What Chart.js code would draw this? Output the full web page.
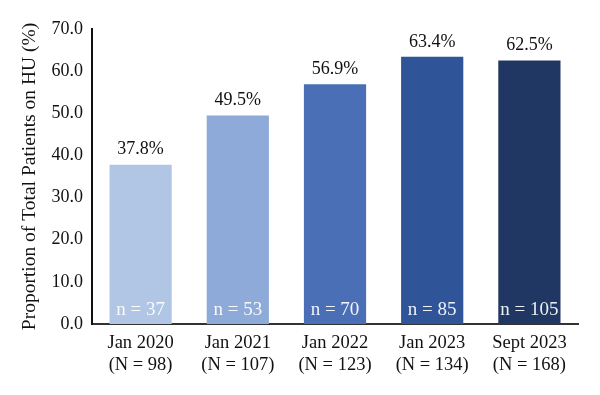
<!DOCTYPE html>
<html>
<head>
<meta charset="utf-8">
<script src="https://cdn.jsdelivr.net/npm/chart.js@4/dist/chart.umd.min.js"></script>
<style>
  html, body { margin: 0; padding: 0; background: #fff; }
  #wrap { width: 600px; height: 395px; }
</style>
</head>
<body>
<div id="wrap"><canvas id="bars"></canvas></div>
<script>
const categories = [
  ["Jan 2020", "(N = 98)"],
  ["Jan 2021", "(N = 107)"],
  ["Jan 2022", "(N = 123)"],
  ["Jan 2023", "(N = 134)"],
  ["Sept 2023", "(N = 168)"]
];
const proportions = [37.8, 49.5, 56.9, 63.4, 62.5];
const patientCounts = [37, 53, 70, 85, 105];
const barColors = ["#b1c5e5", "#8eaad8", "#4a6fb6", "#2f5497", "#1f3762"];

const serif = "'Liberation Serif', 'DejaVu Serif', serif";

// value on top, n = ... inside the bar
const barLabels = {
  id: "barLabels",
  afterDatasetsDraw(chart) {
    const ctx = chart.ctx;
    const meta = chart.getDatasetMeta(0);
    ctx.save();
    ctx.textAlign = "center";
    ctx.font = "18px " + serif;
    meta.data.forEach((bar, i) => {
      ctx.fillStyle = "#111";
      ctx.textBaseline = "bottom";
      ctx.fillText(proportions[i].toFixed(1) + "%", bar.x, bar.y - 6);
      ctx.fillStyle = "rgba(255,255,255,0.92)";
      ctx.textBaseline = "middle";
      ctx.font = "19px " + serif;
      ctx.fillText("n = " + patientCounts[i], bar.x, bar.base - 14);
      ctx.font = "18px " + serif;
    });
    ctx.restore();
  }
};

new Chart(document.getElementById("bars"), {
  type: "bar",
  data: {
    labels: categories,
    datasets: [
      {
        data: proportions,
        backgroundColor: barColors,
        borderWidth: 0,
        categoryPercentage: 1,
        barPercentage: 0.64
      }
    ]
  },
  options: {
    responsive: true,
    maintainAspectRatio: false,
    animation: false,
    layout: { padding: { left: 0, right: 22, top: 29, bottom: 0 } },
    plugins: {
      legend: { display: false },
      tooltip: { enabled: false }
    },
    scales: {
      x: {
        grid: { display: false, drawTicks: false },
        border: { color: "#333", width: 2 },
        ticks: {
          color: "#111",
          padding: 8,
          font: { family: serif, size: 18.5, lineHeight: 1.2 },
          maxRotation: 0
        },
        afterFit(scale) { scale.height = 71; }
      },
      y: {
        min: 0,
        max: 70,
        grid: { display: false, drawTicks: false },
        border: { color: "#111", width: 2 },
        ticks: {
          stepSize: 10,
          color: "#111",
          padding: 9,
          font: { family: serif, size: 18 },
          callback: v => v.toFixed(1)
        },
        title: {
          display: true,
          text: "Proportion of Total Patients on HU (%)",
          color: "#111",
          font: { family: serif, size: 19.5 },
          padding: { top: 18, bottom: 0 }
        },
        afterFit(scale) { scale.width = 92; }
      }
    }
  },
  plugins: [barLabels]
});
</script>
</body>
</html>
